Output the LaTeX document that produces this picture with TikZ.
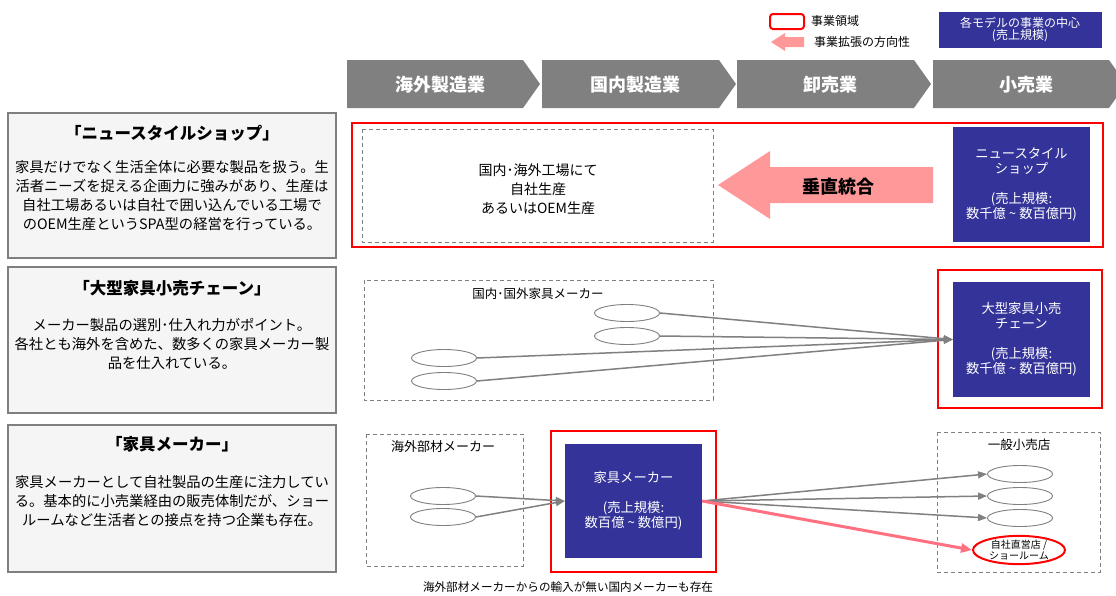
\documentclass[tikz,border=0pt]{standalone}
\usepackage{fontspec}
\setmainfont{Noto Sans CJK JP}
\usetikzlibrary{arrows.meta,shapes.geometric}
\definecolor{navy}{HTML}{333399}
\definecolor{chev}{HTML}{808080}
\definecolor{pnl}{HTML}{F5F5F5}
\definecolor{pinkA}{HTML}{FF9999}
\definecolor{pinkL}{HTML}{FF7080}
\definecolor{dgray}{HTML}{7F7F7F}
\tikzset{
  panel/.style={draw=dgray, line width=2pt, fill=pnl},
  redbox/.style={draw=red, line width=2.5pt},
  dbox/.style={draw=chev, dash pattern=on 4pt off 3pt, line width=0.9pt},
  navybox/.style={fill=navy, text=white, align=center, inner sep=0pt,
     font=\fontsize{13.3}{15}\selectfont},
  ell/.style={ellipse, draw=chev, fill=white, minimum width=65pt, minimum height=17pt, inner sep=0pt, line width=0.9pt},
  conn/.style={draw=chev, line width=1.5pt, -{Triangle[length=9pt,width=7pt]}},
  chevtxt/.style={text=white, font=\fontsize{18}{20}\selectfont\bfseries, inner sep=0pt},
  ptitle/.style={font=\fontsize{16.5}{20}\selectfont\bfseries, inner sep=0pt},
  pbody/.style={font=\fontsize{14.3}{19}\selectfont, align=center, inner sep=0pt},
  btxt/.style={font=\fontsize{14}{19}\selectfont, align=center, inner sep=0pt},
}
\begin{document}
\begin{tikzpicture}[x=1pt,y=-1pt]
\useasboundingbox (0,0) rectangle (1116,595);
\fill[white] (0,0) rectangle (1116,595);

% legend
\draw[draw=red, line width=2pt, rounded corners=3pt] (770,14) rectangle (804,29);
\node[anchor=west, font=\fontsize{12}{14}\selectfont, inner sep=0pt] (lg1) at (811,21) {事業領域};
\fill[pinkA] (771,42) -- (785,33) -- (785,37) -- (804,37) -- (804,47) -- (785,47) -- (785,51) -- cycle;
\node[anchor=west, font=\fontsize{12}{14}\selectfont, inner sep=0pt] (lg2) at (814,42) {事業拡張の方向性};
\node[navybox, minimum width=163pt, minimum height=36pt, font=\fontsize{12}{12}\selectfont] (lg3) at (1020,30) {各モデルの事業の中心\\(売上規模)};

% chevrons
\foreach \a/\b/\t/\n in {347/523/海外製造業/c1, 542/719/国内製造業/c2, 737/914/卸売業/c3, 933/1109/小売業/c4}{
  \fill[chev] (\a,60) -- (\b,60) -- ({\b+17},84) -- (\b,108) -- (\a,108) -- cycle;
  \node[chevtxt] (\n) at ({(\a+\b)/2+5},85) {\t};
}

% left panels
\draw[panel] (8,113) rectangle (336,258);
\node[ptitle] (t1) at (172,133) {「ニュースタイルショップ」};
\node[pbody] (b1) at (172,196) {家具だけでなく生活全体に必要な製品を扱う。生\\活者ニーズを捉える企画力に強みがあり、生産は\\自社工場あるいは自社で囲い込んでいる工場で\\のOEM生産というSPA型の経営を行っている。};

\draw[panel] (8,267) rectangle (336,413);
\node[ptitle] (t2) at (172,288) {「大型家具小売チェーン」};
\node[pbody] (b2) at (172,344) {メーカー製品の選別･仕入れ力がポイント。\\各社とも海外を含めた、数多くの家具メーカー製\\品を仕入れている。};

\draw[panel] (8,425) rectangle (336,572);
\node[ptitle] (t3) at (172,444) {「家具メーカー」};
\node[pbody] (b3) at (172,501) {家具メーカーとして自社製品の生産に注力してい\\る。基本的に小売業経由の販売体制だが、ショー\\ルームなど生活者との接点を持つ企業も存在。};

% row 1
\draw[redbox] (352,123) rectangle (1103,247);
\draw[dbox] (362,129) rectangle (713,242);
\node[btxt] (r1t) at (538,189) {国内･海外工場にて\\自社生産\\あるいはOEM生産};
\fill[pinkA] (718,185) -- (770,151) -- (770,167) -- (933,167) -- (933,203) -- (770,203) -- (770,219) -- cycle;
\node[font=\fontsize{18}{20}\selectfont\bfseries, inner sep=0pt] (vi) at (838,187) {垂直統合};
\node[navybox, minimum width=137pt, minimum height=115pt] (nav1) at (1021.5,184.5) {ニュースタイル\\ショップ\\[15pt](売上規模:\\数千億 \textasciitilde\ 数百億円)};

% row 2
\draw[dbox] (364,280) rectangle (713,400);
\node[font=\fontsize{12.5}{14}\selectfont, inner sep=0pt] (r2t) at (538,294) {国内･国外家具メーカー};
\draw[redbox] (938,270) rectangle (1102,408);
\node[navybox, minimum width=137pt, minimum height=115pt] (nav2) at (1021.5,339.5) {大型家具小売\\チェーン\\[15pt](売上規模:\\数千億 \textasciitilde\ 数百億円)};
\node[ell] (e1) at (627,313) {};
\node[ell] (e2) at (627,336) {};
\node[ell] (e3) at (444,358) {};
\node[ell] (e4) at (444,381) {};
\foreach \e in {e1,e2,e3,e4}{ \draw[conn] (\e.east) -- (nav2.west); }

% row 3
\draw[dbox] (366,434) rectangle (523,566);
\node[font=\fontsize{13}{14}\selectfont, inner sep=0pt] (r3l) at (443,447) {海外部材メーカー};
\draw[redbox] (551,431) rectangle (716,572);
\node[navybox, minimum width=137pt, minimum height=114pt] (nav3) at (633.5,501) {家具メーカー\\[15pt](売上規模:\\数百億 \textasciitilde\ 数億円)};
\node[ell] (f1) at (443,496) {};
\node[ell] (f2) at (443,517) {};
\draw[conn] (f1.east) -- (nav3.west);
\draw[conn] (f2.east) -- (nav3.west);

\draw[dbox] (937,432) rectangle (1100,572);
\node[font=\fontsize{12.5}{14}\selectfont, inner sep=0pt] (r3r) at (1019,445) {一般小売店};
\node[ell] (g1) at (1020,474) {};
\node[ell] (g2) at (1020,496) {};
\node[ell] (g3) at (1020,518) {};
\node[ellipse, draw=red, line width=2pt, fill=white, minimum width=92pt, minimum height=28pt, inner sep=0pt, align=center, font=\fontsize{10}{11}\selectfont] (g4) at (1019,550) {自社直営店 /\\ショールーム};
\foreach \g in {g1,g2,g3}{ \draw[conn] (nav3.east) -- (\g.west); }
\draw[draw=pinkL, line width=3pt, -{Triangle[length=11pt,width=9pt]}] (nav3.east) -- (g4.west);

\node[font=\fontsize{11.6}{12}\selectfont, inner sep=0pt] (note) at (568,587) {海外部材メーカーからの輸入が無い国内メーカーも存在};
\end{tikzpicture}
\end{document}
